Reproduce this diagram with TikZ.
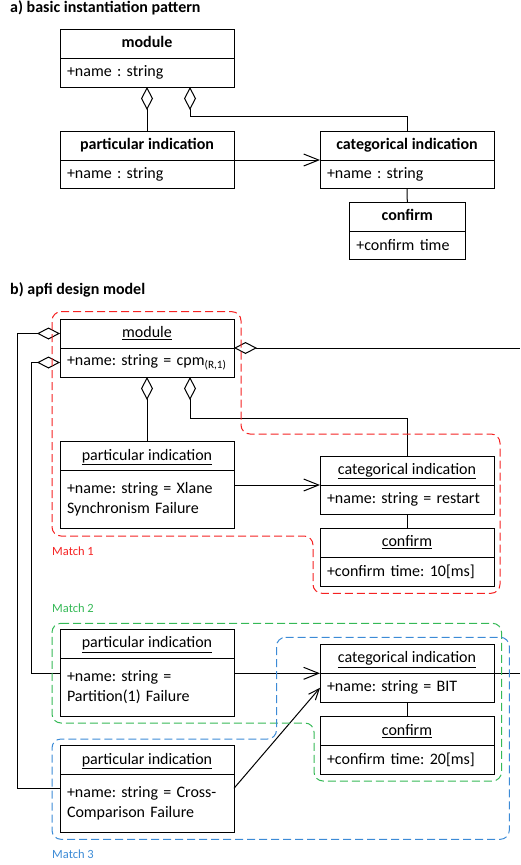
\documentclass[tikz,border=0pt]{standalone}
\usepackage{fontspec}
\setmainfont{Carlito}
\usetikzlibrary{arrows.meta, positioning}
\definecolor{matchred}{HTML}{F52222}
\definecolor{matchgreen}{HTML}{35B956}
\definecolor{matchblue}{HTML}{3C8BD6}
\frenchspacing

\begin{document}
\begin{tikzpicture}[
  x=1pt,
  y=-1pt,
  every node/.style={font=\fontsize{16}{20}\selectfont, black},
  classhead/.style={draw, line width=1pt, minimum width=174pt, minimum height=29pt,
    inner sep=0pt, outer sep=0pt, text height=11.5pt, text depth=3.5pt, anchor=north},
  classattr/.style={draw, line width=1pt, text width=160pt, inner xsep=7pt,
    inner ysep=0pt, outer sep=0pt, align=left, minimum height=29pt, below=0pt of #1},
  link/.style={line width=1pt},
  aggr/.style={link, {Diamond[open, length=23pt, width=12pt]}-},
  assoc/.style={link, -{Straight Barb[length=15pt, width=12pt]}},
  matchzone/.style={line width=1pt, dash pattern=on 8pt off 4pt, rounded corners=9pt},
  matchlabel/.style={anchor=west, inner sep=0pt, font=\fontsize{12.5}{15}\selectfont},
  title/.style={anchor=west, inner sep=0pt, font=\bfseries\fontsize{16}{20}\selectfont}
]
  \useasboundingbox (0,0) rectangle (520,865);
  \coordinate (rim) at (520,0);

  % ---- a) basic instantiation pattern ---------------------------------
  \node[title] (titleA) at (10,8) {a) basic instantiation pattern};

  \node[classhead] (modA) at (147,29) {\bfseries module};
  \node[classattr=modA] (modAattr) {+name : string};

  \node[classhead] (partA) at (147,131) {\bfseries particular indication};
  \node[classattr=partA, minimum height=28.5pt] (partAattr) {+name : string};

  \node[classhead] (catA) at (407,131) {\bfseries categorical indication};
  \node[classattr=catA, minimum height=28.5pt] (catAattr) {+name : string};

  \node[classhead, minimum width=116pt] (confA) at (407.3,202) {\bfseries confirm};
  \node[classattr=confA, text width=102pt, minimum height=28pt] (confAattr) {+confirm time};

  \draw[aggr] (modAattr.south) -- (partA.north);
  \draw[aggr] ([xshift=43pt]modAattr.south) -- ++(0,29) -| (catA.north);
  \draw[assoc] (partA.south east) -- (catA.south west);
  \draw[link] (catAattr.south) -- (confA.north);

  % ---- b) apfi design model -------------------------------------------
  \node[title] (titleB) at (10,290) {b) apfi design model};

  \node[classhead] (modB) at (147,319) {\underline{module}};
  \node[classattr=modB] (modBattr) {+name: string = cpm\textsubscript{(R,1)}};

  \node[classhead] (partB1) at (147,441.7) {\underline{particular indication}};
  \node[classattr=partB1, minimum height=57.6pt] (partB1attr)
    {+name: string = Xlane\\Synchronism Failure};

  \node[classhead] (catB1) at (407,456) {\underline{categorical indication}};
  \node[classattr=catB1] (catB1attr) {+name: string = restart};

  \node[classhead] (confB1) at (407,528.3) {\underline{confirm}};
  \node[classattr=confB1, minimum height=28.7pt] (confB1attr) {+confirm time: 10[ms]};

  \node[classhead] (partB2) at (147,629.3) {\underline{particular indication}};
  \node[classattr=partB2, minimum height=58.4pt] (partB2attr)
    {+name: string =\\Partition(1) Failure};

  \node[classhead] (catB2) at (407,644.3) {\underline{categorical indication}};
  \node[classattr=catB2] (catB2attr) {+name: string = BIT};

  \node[classhead] (confB2) at (407,716.7) {\underline{confirm}};
  \node[classattr=confB2, minimum height=28.6pt] (confB2attr) {+confirm time: 20[ms]};

  \node[classhead, minimum height=28.6pt] (partB3) at (147,745.7) {\underline{particular indication}};
  \node[classattr=partB3, minimum height=58pt] (partB3attr)
    {+name: string = Cross-\\Comparison Failure};
  \coordinate (xcross) at ([yshift=-14pt]partB3attr.north west);

  % ---- connectors -----------------------------------------------------
  \draw[aggr] (modB.west) -- ++(-43,0) |- (xcross);
  \draw[aggr] (modBattr.west) -- ++(-29,0) |- (catB2.south -| partB2attr.west);
  \draw[aggr] (modB.south east) -- (modB.south east -| rim);
  \draw[aggr] (modBattr.south) -- (partB1.north);
  \draw[aggr] ([xshift=43pt]modBattr.south) -- ++(0,41.6) -| (catB1.north);
  \draw[assoc] (catB1.south -| partB1attr.east) -- (catB1.south west);
  \draw[link] (catB1attr.south) -- (confB1.north);
  \draw[assoc] (catB2.south -| partB2attr.east) -- (catB2.south west);
  \draw[link] (catB2.south east) -- (catB2.south east -| rim);
  \draw[link] (catB2attr.south) -- (confB2.north);
  \draw[link, -{Straight Barb[length=11pt, width=9pt]}]
    (xcross -| partB3attr.east) -- (catB2attr.west);

  % ---- matches --------------------------------------------------------
  \draw[matchzone, matchred] (52,311.7) -- (241,311.7) -- (241,434) -- (500,434)
    -- (500,593.3) -- (313,593.3) -- (313,536) -- (52,536) -- cycle;
  \draw[matchzone, matchgreen] (52,623.3) -- (501.5,623.3) -- (501.5,781)
    -- (314,781) -- (314,723) -- (52,723) -- cycle;
  \draw[matchzone, matchblue] (276.5,637.3) -- (509.3,637.3) -- (509.3,839.3)
    -- (52,839.3) -- (52,739) -- (276.5,739) -- cycle;

  \node[matchlabel, text=matchred] (match1) at (52,550.7) {Match 1};
  \node[matchlabel, text=matchgreen] (match2) at (52,608.3) {Match 2};
  \node[matchlabel, text=matchblue] (match3) at (52,854.3) {Match 3};
\end{tikzpicture}
\end{document}
